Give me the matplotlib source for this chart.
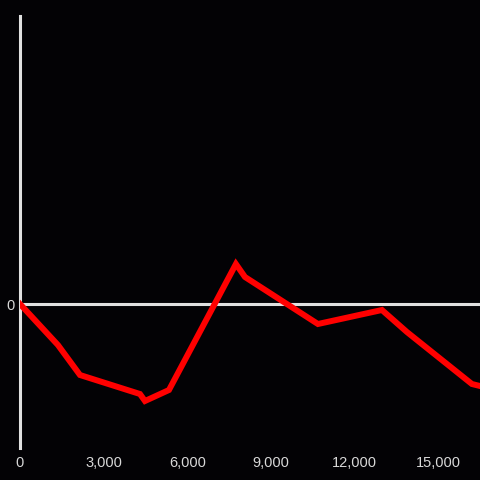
import matplotlib.pyplot as plt
from matplotlib.ticker import FuncFormatter

# values (y in arbitrary units)
x_vals = [0, 1360, 2150, 4300, 4480, 5340, 7740, 8065, 10680, 12975, 13870, 16200, 16490]
y_vals = [0, -41, -71, -90, -97, -86, 40, 27, -20, -6, -28, -80, -82]
x_ticks = [0, 3000, 6000, 9000, 12000, 15000]

bg = '#030205'
axis_col = '#e0e0e0'

fig = plt.figure(figsize=(4.8, 4.8), dpi=100, facecolor=bg)
ax = fig.add_axes([20 / 480, 32 / 480, 460 / 480, 432 / 480])
ax.set_facecolor(bg)

ax.plot(x_vals, y_vals, color='#ff0000', linewidth=4.3, solid_joinstyle='miter', zorder=3)
ax.axhline(0, color=axis_col, linewidth=2.2, zorder=2)

ax.set_xlim(0, 16490)
ax.set_ylim(-144, 288)

for side in ['top', 'right', 'bottom']:
    ax.spines[side].set_visible(False)
ax.spines['left'].set_color(axis_col)
ax.spines['left'].set_linewidth(2.2)

ax.set_xticks(x_ticks)
ax.xaxis.set_major_formatter(FuncFormatter(lambda v, p: f'{int(v):,}'))
ax.set_yticks([0])
ax.tick_params(length=0, colors='#d8d8d8', labelsize=10.5)
ax.tick_params(axis='x', pad=6)
ax.tick_params(axis='y', pad=4)
for lab in ax.get_xticklabels() + ax.get_yticklabels():
    lab.set_fontfamily('Liberation Sans')

fig.savefig('out.png', dpi=100, facecolor=bg)
